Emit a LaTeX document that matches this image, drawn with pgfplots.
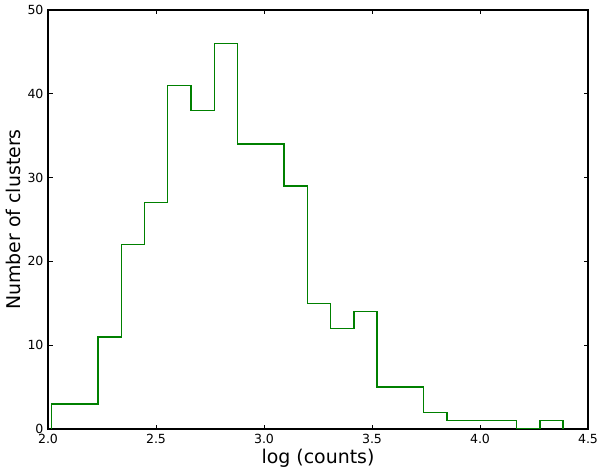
\documentclass[border=0pt]{standalone}
\usepackage{fontspec}
\setmainfont{DejaVu Sans}
\usepackage{pgfplots}
\pgfplotsset{compat=1.18}
\definecolor{mplgreen}{rgb}{0,0.5,0}

\begin{document}
\begin{tikzpicture}
\begin{axis}[
    scale only axis,
    width=540bp, height=419bp,
    xmin=2.0, xmax=4.5, ymin=0, ymax=50,
    xtick={2.0,2.5,3.0,3.5,4.0,4.5},
    ytick={0,10,20,30,40,50},
    xticklabel style={/pgf/number format/.cd, fixed, fixed zerofill, precision=1},
    /pgf/number format/assume math mode=true,
    tick label style={font=\fontsize{12.6}{15}\selectfont},
    label style={font=\fontsize{19}{22}\selectfont},
    xlabel={log (counts)},
    ylabel={Number of clusters},
    xlabel style={at={(axis description cs:0.5,-0.0835)}, anchor=base},
    ylabel style={at={(axis description cs:-0.05,0.5)}, anchor=base},
    tick align=inside,
    major tick length=4.5bp,
    tick style={black, line width=0.9bp},
    axis line style={line width=1.2bp},
    xtick pos=both, ytick pos=both,
    xticklabel shift=1.5bp, yticklabel shift=1bp,
]
\addplot[const plot, mplgreen, line width=1.4bp] coordinates {
  (2.016,0) (2.016,3) (2.124,3) (2.231,11) (2.339,22) (2.447,27)
  (2.554,41) (2.662,38) (2.770,46) (2.878,34) (2.985,34) (3.093,29)
  (3.201,15) (3.308,12) (3.416,14) (3.524,5) (3.631,5) (3.739,2)
  (3.847,1) (3.954,1) (4.062,1) (4.170,0) (4.277,1) (4.385,1) (4.385,0)};
\end{axis}
\pgfresetboundingbox
\path[use as bounding box] (-48bp,-41bp) rectangle (552bp,429bp);
\end{tikzpicture}
\end{document}
